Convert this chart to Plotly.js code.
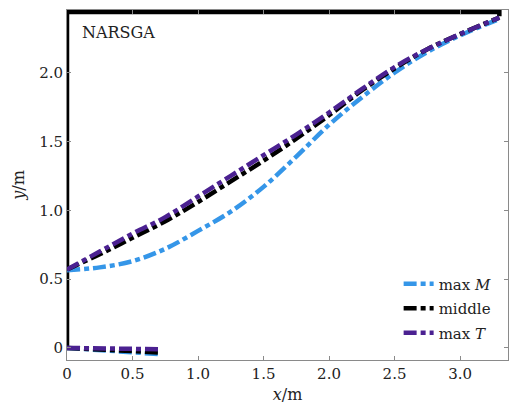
<!DOCTYPE html>
<html>
<head>
<meta charset="utf-8">
<script src="https://cdn.plot.ly/plotly-3.0.1.min.js"></script>
<style>
  html, body { margin: 0; padding: 0; background: #fff; }
  #chart { width: 510px; height: 412px; }
</style>
</head>
<body>
<div id="chart"></div>
<script>
// Station positions along the span (m)
const xs = [0, 0.25, 0.5, 0.75, 1.0, 1.25, 1.5, 1.75, 2.0, 2.25, 2.5, 2.75, 3.0, 3.3];

// Upper profiles (m)
const yMaxM   = [0.565, 0.585, 0.63, 0.72, 0.85, 0.99, 1.17, 1.39, 1.62, 1.82, 2.00, 2.15, 2.27, 2.39];
const yMiddle = [0.57, 0.68, 0.80, 0.92, 1.06, 1.21, 1.36, 1.52, 1.69, 1.87, 2.03, 2.17, 2.28, 2.40];
const yMaxT   = [0.57, 0.70, 0.83, 0.95, 1.10, 1.25, 1.40, 1.55, 1.71, 1.88, 2.04, 2.17, 2.28, 2.40];

// Lower chord near the support (m)
const xsLow      = [0, 0.35, 0.7];
const yLowMaxM   = [0, -0.02, -0.045];
const yLowMiddle = [0, -0.015, -0.033];
const yLowMaxT   = [0, -0.005, -0.01];

// Fixed boundary outline (m)
const xFrame = [0, 0, 3.3, 3.3];
const yFrame = [0, 2.44, 2.44, 2.41];

const names = ['max <i>M</i>', 'middle', 'max <i>T</i>'];
const colors = ['#3596e8', '#000000', '#4b2191'];
const dash = '13px,4px,5px,4px';
const lw = 4.5;

const upper = [yMaxM, yMiddle, yMaxT];
const lower = [yLowMaxM, yLowMiddle, yLowMaxT];

const traces = [{
  x: xFrame, y: yFrame, mode: 'lines', showlegend: false, hoverinfo: 'skip',
  line: {color: '#000', width: 4.5}
}];
for (let i = 0; i < 3; i++) {
  traces.push({
    x: xs, y: upper[i], mode: 'lines', name: names[i],
    legendgroup: 'g' + i,
    line: {color: colors[i], width: lw, dash: dash, shape: 'spline'}
  });
  traces.push({
    x: xsLow, y: lower[i], mode: 'lines', name: names[i],
    legendgroup: 'g' + i, showlegend: false,
    line: {color: colors[i], width: lw, dash: dash}
  });
}

const serif = 'DejaVu Serif';
const tickTxt = {family: serif, size: 15, color: '#222'};
const txt = {family: serif, size: 16, color: '#222'};
const axisCommon = {
  showline: true, linecolor: '#8a8a8a', linewidth: 1,
  mirror: 'ticks', ticks: 'inside', ticklen: 4, tickcolor: '#8a8a8a',
  showgrid: false, zeroline: false,
  tickfont: tickTxt
};

const layout = {
  width: 510, height: 412,
  margin: {l: 67, r: 2, t: 10, b: 52},
  paper_bgcolor: '#fff', plot_bgcolor: '#fff',
  font: txt,
  xaxis: Object.assign({}, axisCommon, {
    range: [0, 3.366],
    tickvals: [0, 0.5, 1.0, 1.5, 2.0, 2.5, 3.0],
    ticktext: ['0', '0.5', '1.0', '1.5', '2.0', '2.5', '3.0'],
    title: {text: '<i>x</i>/m', font: txt, standoff: 6}
  }),
  yaxis: Object.assign({}, axisCommon, {
    range: [-0.088, 2.455],
    tickvals: [0, 0.5, 1.0, 1.5, 2.0],
    ticktext: ['0', '0.5', '1.0', '1.5', '2.0'],
    title: {text: '<i>y</i>/m', font: txt, standoff: 10}
  }),
  showlegend: true,
  legend: {
    x: 0.752, y: 0.147, xanchor: 'left', yanchor: 'middle',
    bgcolor: 'rgba(0,0,0,0)', borderwidth: 0,
    traceorder: 'grouped', tracegroupgap: 2,
    font: {family: serif, size: 15, color: '#222'}
  },
  annotations: [{
    xref: 'paper', yref: 'paper', x: 0.03, y: 0.935, xanchor: 'left', yanchor: 'middle',
    text: 'NARSGA', showarrow: false, font: txt
  }]
};

Plotly.newPlot('chart', traces, layout, {staticPlot: true, displayModeBar: false});
</script>
</body>
</html>
